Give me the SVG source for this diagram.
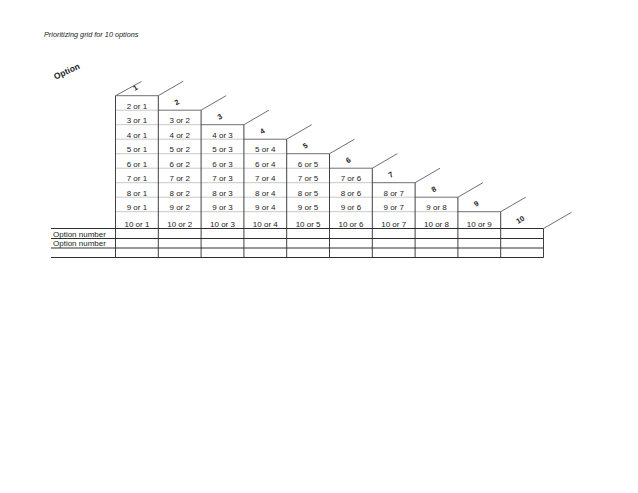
<svg xmlns="http://www.w3.org/2000/svg" width="638" height="493" viewBox="0 0 638 493">
<style>
text{font-family:"Liberation Sans",Arial,sans-serif;fill:#222}
.c{font-size:8px;text-anchor:middle}
.b{font-size:8px;font-weight:bold;text-anchor:middle}
.h{font-size:7.5px;font-weight:bold;text-anchor:middle;font-family:"DejaVu Sans",sans-serif}
.l{font-size:8px}
.sep{stroke:#c8c8c8;stroke-width:1;fill:none}
.top{stroke:#707070;stroke-width:1;fill:none}
.v{stroke:#404040;stroke-width:1;fill:none}
.g{stroke:#303030;stroke-width:1;fill:none}
</style>
<rect width="638" height="493" fill="#fff"/>
<text x="44" y="37" style="font-size:7.3px;font-style:italic">Prioritizing grid for 10 options</text>
<text x="0" y="0" transform="translate(68,74) rotate(-25)" style="font-size:8.5px;font-weight:bold;text-anchor:middle">Option</text>
<g id="connectors">
<g class="sep">
<line x1="115.5" y1="110.2" x2="158.3" y2="110.2"/>
<line x1="115.5" y1="124.7" x2="201.1" y2="124.7"/>
<line x1="115.5" y1="139.2" x2="243.9" y2="139.2"/>
<line x1="115.5" y1="153.7" x2="286.7" y2="153.7"/>
<line x1="115.5" y1="168.2" x2="329.5" y2="168.2"/>
<line x1="115.5" y1="182.7" x2="372.3" y2="182.7"/>
<line x1="115.5" y1="197.2" x2="415.1" y2="197.2"/>
<line x1="115.5" y1="211.7" x2="457.9" y2="211.7"/>
</g>
<g class="top">
<line x1="115.5" y1="95.7" x2="158.3" y2="95.7"/>
<line x1="158.3" y1="110.2" x2="201.1" y2="110.2"/>
<line x1="201.1" y1="124.7" x2="243.9" y2="124.7"/>
<line x1="243.9" y1="139.2" x2="286.7" y2="139.2"/>
<line x1="286.7" y1="153.7" x2="329.5" y2="153.7"/>
<line x1="329.5" y1="168.2" x2="372.3" y2="168.2"/>
<line x1="372.3" y1="182.7" x2="415.1" y2="182.7"/>
<line x1="415.1" y1="197.2" x2="457.9" y2="197.2"/>
<line x1="457.9" y1="211.7" x2="500.7" y2="211.7"/>
<line x1="115.5" y1="95.7" x2="141.5" y2="81.5"/>
<line x1="158.3" y1="95.7" x2="183.3" y2="81.2"/>
<line x1="201.1" y1="110.2" x2="226.1" y2="95.7"/>
<line x1="243.9" y1="124.7" x2="268.9" y2="110.2"/>
<line x1="286.7" y1="139.2" x2="311.7" y2="124.7"/>
<line x1="329.5" y1="153.7" x2="354.5" y2="139.2"/>
<line x1="372.3" y1="168.2" x2="397.3" y2="153.7"/>
<line x1="415.1" y1="182.7" x2="440.1" y2="168.2"/>
<line x1="457.9" y1="197.2" x2="482.9" y2="182.7"/>
<line x1="500.7" y1="211.7" x2="525.7" y2="197.2"/>
<line x1="543.5" y1="228.5" x2="571.5" y2="212.3"/>
</g>
<g class="v">
<line x1="115.5" y1="95.7" x2="115.5" y2="257.5"/>
<line x1="158.3" y1="95.7" x2="158.3" y2="257.5"/>
<line x1="201.1" y1="110.2" x2="201.1" y2="257.5"/>
<line x1="243.9" y1="124.7" x2="243.9" y2="257.5"/>
<line x1="286.7" y1="139.2" x2="286.7" y2="257.5"/>
<line x1="329.5" y1="153.7" x2="329.5" y2="257.5"/>
<line x1="372.3" y1="168.2" x2="372.3" y2="257.5"/>
<line x1="415.1" y1="182.7" x2="415.1" y2="257.5"/>
<line x1="457.9" y1="197.2" x2="457.9" y2="257.5"/>
<line x1="500.7" y1="211.7" x2="500.7" y2="257.5"/>
<line x1="543.5" y1="228.5" x2="543.5" y2="257.5"/>
</g>
<g class="g">
<line x1="51" y1="228.5" x2="543.5" y2="228.5"/>
<line x1="51" y1="238.5" x2="543.5" y2="238.5"/>
<line x1="51" y1="248" x2="543.5" y2="248"/>
<line x1="51" y1="257.5" x2="543.5" y2="257.5"/>
</g>
</g>
<g id="headers" class="h">
<text transform="translate(136.5,90) rotate(-30)">1</text>
<text transform="translate(178,104.5) rotate(-30)">2</text>
<text transform="translate(221,119) rotate(-30)">3</text>
<text transform="translate(263.5,133.5) rotate(-30)">4</text>
<text transform="translate(306.5,148) rotate(-30)">5</text>
<text transform="translate(349.5,162.5) rotate(-30)">6</text>
<text transform="translate(392,177) rotate(-30)">7</text>
<text transform="translate(435,191.5) rotate(-30)">8</text>
<text transform="translate(477.5,206) rotate(-30)">9</text>
<text transform="translate(521.5,222) rotate(-30)">10</text>
</g>
<g id="col1" class="c">
<text x="136.9" y="108.5">2 or 1</text>
<text x="136.9" y="123">3 or 1</text>
<text x="136.9" y="137.5">4 or 1</text>
<text x="136.9" y="152">5 or 1</text>
<text x="136.9" y="166.5">6 or 1</text>
<text x="136.9" y="181">7 or 1</text>
<text x="136.9" y="195.5">8 or 1</text>
<text x="136.9" y="210">9 or 1</text>
<text x="136.9" y="226.5">10 or 1</text>
</g>
<g id="col2" class="c">
<text x="179.7" y="123">3 or 2</text>
<text x="179.7" y="137.5">4 or 2</text>
<text x="179.7" y="152">5 or 2</text>
<text x="179.7" y="166.5">6 or 2</text>
<text x="179.7" y="181">7 or 2</text>
<text x="179.7" y="195.5">8 or 2</text>
<text x="179.7" y="210">9 or 2</text>
<text x="179.7" y="226.5">10 or 2</text>
</g>
<g id="col3" class="c">
<text x="222.5" y="137.5">4 or 3</text>
<text x="222.5" y="152">5 or 3</text>
<text x="222.5" y="166.5">6 or 3</text>
<text x="222.5" y="181">7 or 3</text>
<text x="222.5" y="195.5">8 or 3</text>
<text x="222.5" y="210">9 or 3</text>
<text x="222.5" y="226.5">10 or 3</text>
</g>
<g id="col4" class="c">
<text x="265.3" y="152">5 or 4</text>
<text x="265.3" y="166.5">6 or 4</text>
<text x="265.3" y="181">7 or 4</text>
<text x="265.3" y="195.5">8 or 4</text>
<text x="265.3" y="210">9 or 4</text>
<text x="265.3" y="226.5">10 or 4</text>
</g>
<g id="col5" class="c">
<text x="308.1" y="166.5">6 or 5</text>
<text x="308.1" y="181">7 or 5</text>
<text x="308.1" y="195.5">8 or 5</text>
<text x="308.1" y="210">9 or 5</text>
<text x="308.1" y="226.5">10 or 5</text>
</g>
<g id="col6" class="c">
<text x="350.9" y="181">7 or 6</text>
<text x="350.9" y="195.5">8 or 6</text>
<text x="350.9" y="210">9 or 6</text>
<text x="350.9" y="226.5">10 or 6</text>
</g>
<g id="col7" class="c">
<text x="393.7" y="195.5">8 or 7</text>
<text x="393.7" y="210">9 or 7</text>
<text x="393.7" y="226.5">10 or 7</text>
</g>
<g id="col8" class="c">
<text x="436.5" y="210">9 or 8</text>
<text x="436.5" y="226.5">10 or 8</text>
</g>
<g id="col9" class="c">
<text x="479.3" y="226.5">10 or 9</text>
</g>
<g id="rowlabels" class="l">
<text x="53" y="236.5">Option number</text>
<text x="53" y="246">Option number</text>
</g>
</svg>
